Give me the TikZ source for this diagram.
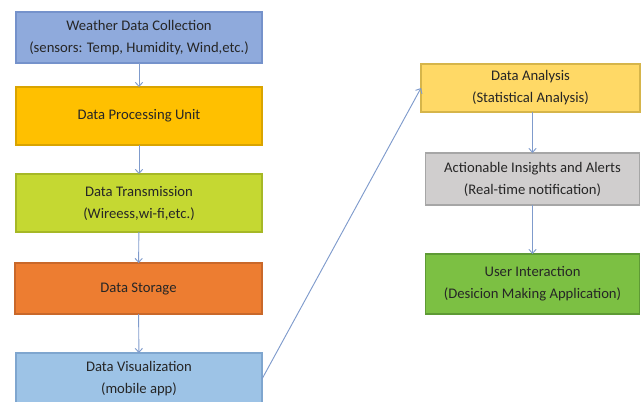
\documentclass[tikz,border=0pt]{standalone}
\usepackage{fontspec}
\setmainfont{Carlito}
\usetikzlibrary{arrows.meta}
\definecolor{txt}{HTML}{262626}
\definecolor{arr}{HTML}{7F9BCC}
\definecolor{f1}{HTML}{8FAADC}\definecolor{d1}{HTML}{7592CB}
\definecolor{f2}{HTML}{FFC000}\definecolor{d2}{HTML}{D9A400}
\definecolor{f3}{HTML}{C5D832}\definecolor{d3}{HTML}{A6B826}
\definecolor{f4}{HTML}{ED7D31}\definecolor{d4}{HTML}{C9682A}
\definecolor{f5}{HTML}{9DC3E6}\definecolor{d5}{HTML}{7FA6CF}
\definecolor{f6}{HTML}{FFD966}\definecolor{d6}{HTML}{D6B54A}
\definecolor{f7}{HTML}{D0CECE}\definecolor{d7}{HTML}{A6A6A6}
\definecolor{f8}{HTML}{7CC043}\definecolor{d8}{HTML}{5E9A35}
\tikzset{
  box/.style={rectangle, draw=#1, line width=0.8pt, inner sep=0pt, outer sep=0pt,
    align=center, text=txt, font=\fontsize{11}{16.5}\selectfont},
  conn/.style={draw=arr, line width=0.7pt, -{Straight Barb[length=3pt,width=5.5pt]}}
}
\begin{document}
\begin{tikzpicture}[x=0.75pt,y=-0.75pt]
\useasboundingbox (0,0) rectangle (641,401);
\begin{scope}
\clip (0,0) rectangle (641,401);
\node (b1) [box=d1, fill=f1, minimum width=184.5pt, minimum height=38.25pt] at (139,37.5)
  {Weather Data Collection\\(sensors: Temp, Humidity, Wind,etc.)};
\node (b2) [box=d2, fill=f2, minimum width=184.5pt, minimum height=43.5pt] at (139,116)
  {Data Processing Unit};
\node (b3) [box=d3, fill=f3, minimum width=184.5pt, minimum height=43.5pt] at (139,203)
  {Data Transmission\\(Wireess,wi-fi,etc.)};
\node (b4) [box=d4, fill=f4, minimum width=185.25pt, minimum height=38.25pt] at (138.5,288.5)
  {Data Storage};
\node (b5) [box=d5, fill=f5, minimum width=184.5pt, minimum height=39pt] at (139,379)
  {Data Visualization\\(mobile app)};
\node (r1) [box=d6, fill=f6, minimum width=164.25pt, minimum height=36pt] at (530.5,88)
  {Data Analysis\\(Statistical Analysis)};
\node (r2) [box=d7, fill=f7, minimum width=160.5pt, minimum height=39pt] at (532.5,179)
  {Actionable Insights and Alerts\\(Real-time notification)};
\node (r3) [box=d8, fill=f8, minimum width=160.5pt, minimum height=45pt] at (532.5,284)
  {User Interaction\\(Desicion Making Application)};
\draw[conn] (b1) -- (b2);
\draw[conn] (b2) -- (b3);
\draw[conn] (b3) -- (b4);
\draw[conn] (b4) -- (b5);
\draw[conn] (b5.east) -- (r1.west);
\draw[conn] (r1.south -| r2.north) -- (r2.north);
\draw[conn] (r2) -- (r3);
\end{scope}
\end{tikzpicture}
\end{document}
